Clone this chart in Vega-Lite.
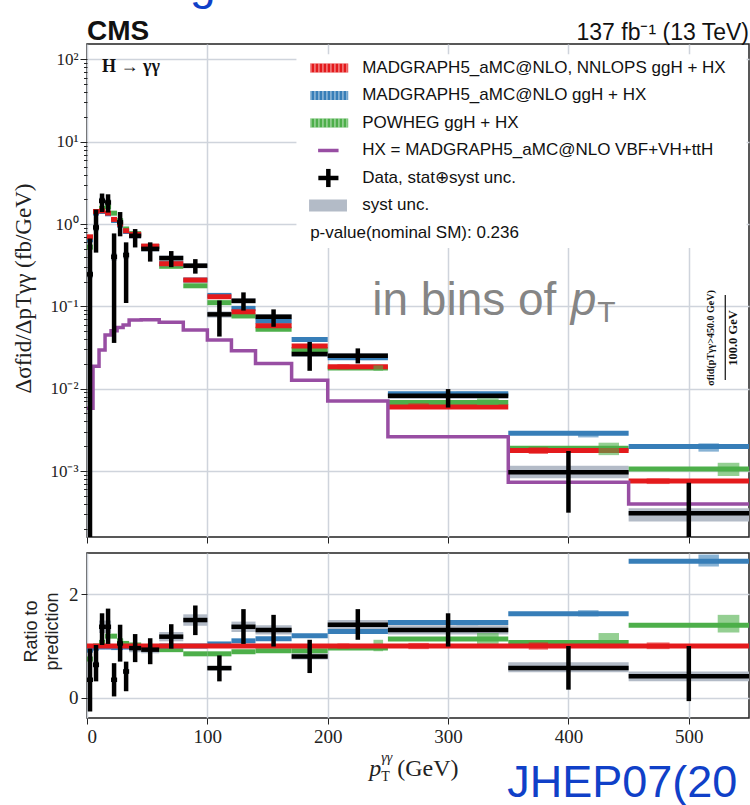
{
"$schema": "https://vega.github.io/schema/vega-lite/v6.json",
"autosize": {"type": "none"},
"padding": {"left": 87, "top": 44, "right": 663, "bottom": 761},
"background": "white",
"bounds": "flush",
"spacing": 16,
"config": {
  "font": "Liberation Sans",
  "view": {"stroke": "#222", "strokeWidth": 1.5},
  "axis": {"gridColor": "#cfd4dc", "gridWidth": 1.5, "domain": false, "tickColor": "#222", "labelColor": "#222", "titleColor": "#222"}
},
"datasets": {
  "bins": [
    {"lo":0,"hi":5,"c":2.5,"nnlops":0.70,"mg5":0.644,"powheg":0.525,"d":0.245,"dlo":0.00001,"dhi":0.67,"slo":0.22,"shi":0.27,"r_mg5":0.92,"r_powheg":0.75,"rd":0.35,"rlo":-0.26,"rhi":0.95,"rslo":0.31,"rshi":0.39},
    {"lo":5,"hi":10,"c":7.5,"nnlops":1.42,"mg5":1.363,"powheg":1.42,"d":0.91,"dlo":0.45,"dhi":1.50,"slo":0.82,"shi":1.0,"r_mg5":0.96,"r_powheg":1.0,"rd":0.64,"rlo":0.32,"rhi":1.02,"rslo":0.58,"rshi":0.70},
    {"lo":10,"hi":15,"c":12.5,"nnlops":1.45,"mg5":1.421,"powheg":1.552,"d":1.92,"dlo":1.40,"dhi":2.35,"slo":1.75,"shi":2.1,"r_mg5":0.98,"r_powheg":1.07,"rd":1.37,"rlo":1.02,"rhi":1.63,"rslo":1.25,"rshi":1.49},
    {"lo":15,"hi":20,"c":17.5,"nnlops":1.36,"mg5":1.333,"powheg":1.618,"d":1.83,"dlo":1.38,"dhi":2.30,"slo":1.66,"shi":2.0,"r_mg5":0.98,"r_powheg":1.19,"rd":1.37,"rlo":1.04,"rhi":1.72,"rslo":1.25,"rshi":1.49},
    {"lo":20,"hi":25,"c":22.5,"nnlops":1.14,"mg5":1.106,"powheg":1.357,"d":0.40,"dlo":0.036,"dhi":0.77,"slo":0.36,"shi":0.44,"r_mg5":0.97,"r_powheg":1.19,"rd":0.35,"rlo":0.03,"rhi":0.67,"rslo":0.31,"rshi":0.39},
    {"lo":25,"hi":30,"c":27.5,"nnlops":1.0,"mg5":0.97,"powheg":1.10,"d":1.05,"dlo":0.71,"dhi":1.40,"slo":0.95,"shi":1.15,"r_mg5":0.97,"r_powheg":1.10,"rd":1.05,"rlo":0.70,"rhi":1.41,"rslo":0.96,"rshi":1.14},
    {"lo":30,"hi":35,"c":32.5,"nnlops":0.83,"mg5":0.813,"powheg":0.872,"d":0.42,"dlo":0.11,"dhi":0.60,"slo":0.38,"shi":0.46,"r_mg5":0.98,"r_powheg":1.05,"rd":0.51,"rlo":0.13,"rhi":0.70,"rslo":0.46,"rshi":0.56},
    {"lo":35,"hi":45,"c":40,"nnlops":0.75,"mg5":0.735,"powheg":0.765,"d":0.72,"dlo":0.52,"dhi":0.87,"slo":0.66,"shi":0.78,"r_mg5":0.98,"r_powheg":1.02,"rd":0.96,"rlo":0.69,"rhi":1.23,"rslo":0.88,"rshi":1.04},
    {"lo":45,"hi":60,"c":52.5,"nnlops":0.54,"mg5":0.535,"powheg":0.535,"d":0.50,"dlo":0.35,"dhi":0.60,"slo":0.46,"shi":0.54,"r_mg5":0.99,"r_powheg":0.99,"rd":0.93,"rlo":0.65,"rhi":1.15,"rslo":0.86,"rshi":1.0},
    {"lo":60,"hi":80,"c":70,"nnlops":0.33,"mg5":0.33,"powheg":0.307,"d":0.386,"dlo":0.30,"dhi":0.47,"slo":0.355,"shi":0.417,"r_mg5":1.0,"r_powheg":0.93,"rd":1.18,"rlo":0.95,"rhi":1.42,"rslo":1.09,"rshi":1.27},
    {"lo":80,"hi":100,"c":90,"nnlops":0.209,"mg5":0.209,"powheg":0.178,"d":0.312,"dlo":0.25,"dhi":0.375,"slo":0.29,"shi":0.335,"r_mg5":1.0,"r_powheg":0.85,"rd":1.50,"rlo":1.21,"rhi":1.78,"rslo":1.39,"rshi":1.61},
    {"lo":100,"hi":120,"c":110,"nnlops":0.131,"mg5":0.136,"powheg":0.111,"d":0.080,"dlo":0.043,"dhi":0.118,"slo":0.073,"shi":0.087,"r_mg5":1.04,"r_powheg":0.85,"rd":0.575,"rlo":0.32,"rhi":0.82,"rslo":0.53,"rshi":0.62},
    {"lo":120,"hi":140,"c":130,"nnlops":0.086,"mg5":0.0946,"powheg":0.0765,"d":0.117,"dlo":0.089,"dhi":0.148,"slo":0.108,"shi":0.126,"r_mg5":1.10,"r_powheg":0.89,"rd":1.37,"rlo":1.04,"rhi":1.71,"rslo":1.27,"rshi":1.47},
    {"lo":140,"hi":170,"c":155,"nnlops":0.058,"mg5":0.0661,"powheg":0.0528,"d":0.0748,"dlo":0.0565,"dhi":0.092,"slo":0.069,"shi":0.081,"r_mg5":1.14,"r_powheg":0.91,"rd":1.31,"rlo":0.99,"rhi":1.60,"rslo":1.22,"rshi":1.40},
    {"lo":170,"hi":200,"c":185,"nnlops":0.033,"mg5":0.0396,"powheg":0.030,"d":0.0264,"dlo":0.0165,"dhi":0.037,"slo":0.0243,"shi":0.0285,"r_mg5":1.20,"r_powheg":0.91,"rd":0.80,"rlo":0.48,"rhi":1.12,"rslo":0.74,"rshi":0.86},
    {"lo":200,"hi":250,"c":225,"nnlops":0.0185,"mg5":0.0237,"powheg":0.0178,"d":0.0252,"dlo":0.0203,"dhi":0.0309,"slo":0.0232,"shi":0.0272,"r_mg5":1.28,"r_powheg":0.96,"rd":1.41,"rlo":1.12,"rhi":1.71,"rslo":1.32,"rshi":1.50},
    {"lo":250,"hi":350,"c":300,"nnlops":0.00598,"mg5":0.0087,"powheg":0.00679,"d":0.00822,"dlo":0.0059,"dhi":0.0099,"slo":0.0075,"shi":0.0090,"r_mg5":1.455,"r_powheg":1.135,"rd":1.31,"rlo":0.99,"rhi":1.63,"rslo":1.22,"rshi":1.40},
    {"lo":350,"hi":450,"c":400,"nnlops":0.00177,"mg5":0.00287,"powheg":0.00189,"d":0.000964,"dlo":0.000312,"dhi":0.00175,"slo":0.00082,"shi":0.00116,"r_mg5":1.62,"r_powheg":1.07,"rd":0.577,"rlo":0.16,"rhi":1.0,"rslo":0.494,"rshi":0.686},
    {"lo":450,"hi":550,"c":500,"nnlops":0.000756,"mg5":0.00199,"powheg":0.00106,"d":0.000306,"dlo":0.00001,"dhi":0.00072,"slo":0.000243,"shi":0.000352,"r_mg5":2.63,"r_powheg":1.40,"rd":0.417,"rlo":-0.06,"rhi":1.0,"rslo":0.32,"rshi":0.51}
  ],
  "hx": [
    {"x":0,"v":0.0058},{"x":5,"v":0.0188},{"x":10,"v":0.0295},{"x":15,"v":0.045},{"x":20,"v":0.0506},
    {"x":25,"v":0.0556},{"x":30,"v":0.0593},{"x":35,"v":0.0683},{"x":45,"v":0.069},{"x":60,"v":0.064},
    {"x":80,"v":0.0517},{"x":100,"v":0.039},{"x":120,"v":0.029},{"x":140,"v":0.0203},{"x":170,"v":0.0127},
    {"x":200,"v":0.00708},{"x":250,"v":0.00261},{"x":350,"v":0.00073},{"x":450,"v":0.000398},{"x":550,"v":0.000398}
  ],
  "unc_top": [
    {"series":"nnlops","x1":208,"x2":218,"v1":0.0172,"v2":0.0198},
    {"series":"mg5","x1":228,"x2":238,"v1":0.0222,"v2":0.0252},
    {"series":"powheg","x1":238,"x2":246,"v1":0.0165,"v2":0.0192},
    {"series":"nnlops","x1":267,"x2":284,"v1":0.00577,"v2":0.00664},
    {"series":"mg5","x1":307,"x2":325,"v1":0.0080,"v2":0.0092},
    {"series":"powheg","x1":324,"x2":342,"v1":0.00634,"v2":0.00764},
    {"series":"nnlops","x1":367,"x2":383,"v1":0.00161,"v2":0.00194},
    {"series":"mg5","x1":408,"x2":425,"v1":0.00256,"v2":0.00303},
    {"series":"powheg","x1":425,"x2":442,"v1":0.00156,"v2":0.00221},
    {"series":"nnlops","x1":465,"x2":484,"v1":0.000695,"v2":0.000815},
    {"series":"mg5","x1":508,"x2":525,"v1":0.00172,"v2":0.00217},
    {"series":"powheg","x1":524,"x2":542,"v1":0.00087,"v2":0.00126}
  ],
  "unc_ratio": [
    {"series":"nnlops","x1":208,"x2":218,"v1":0.95,"v2":1.05},
    {"series":"mg5","x1":228,"x2":238,"v1":1.24,"v2":1.32},
    {"series":"powheg","x1":238,"x2":246,"v1":0.90,"v2":1.12},
    {"series":"nnlops","x1":267,"x2":284,"v1":0.94,"v2":1.06},
    {"series":"mg5","x1":307,"x2":325,"v1":1.40,"v2":1.50},
    {"series":"powheg","x1":324,"x2":342,"v1":1.04,"v2":1.25},
    {"series":"nnlops","x1":367,"x2":383,"v1":0.93,"v2":1.07},
    {"series":"mg5","x1":408,"x2":425,"v1":1.57,"v2":1.69},
    {"series":"powheg","x1":425,"x2":442,"v1":0.96,"v2":1.25},
    {"series":"nnlops","x1":465,"x2":484,"v1":0.94,"v2":1.07},
    {"series":"mg5","x1":508,"x2":525,"v1":2.53,"v2":2.76},
    {"series":"powheg","x1":524,"x2":542,"v1":1.26,"v2":1.60}
  ],
  "legend": [
    {"rank":1,"series":"nnlops","label":"MADGRAPH5_aMC@NLO, NNLOPS ggH + HX"},
    {"rank":2,"series":"mg5","label":"MADGRAPH5_aMC@NLO ggH + HX"},
    {"rank":3,"series":"powheg","label":"POWHEG ggH + HX"},
    {"rank":4,"series":"hx","label":"HX = MADGRAPH5_aMC@NLO VBF+VH+ttH"},
    {"rank":5,"series":"data","label":"Data, stat⊕syst unc."},
    {"rank":6,"series":"syst","label":"syst unc."},
    {"rank":7,"series":"pvalue","label":"p-value(nominal SM): 0.236"}
  ]
},
"vconcat": [
  {
    "width": 662,
    "height": 493,
    "resolve": {"scale": {"y": "independent"}},
    "layer": [
      {
        "layer": [
          {
            "data": {"name": "bins"},
            "mark": {"type": "rect", "color": "#b3bbc7", "clip": true},
            "encoding": {
              "x": {"field": "lo", "type": "quantitative", "scale": {"domain": [0, 550], "nice": false, "zero": false},
                    "axis": {"values": [0,100,200,300,400,500], "labels": false, "title": null, "tickSize": 6, "grid": true}},
              "x2": {"field": "hi"},
              "y": {"field": "slo", "type": "quantitative", "scale": {"type": "log", "domain": [0.000158, 154], "nice": false},
                    "axis": {"values": [0.001,0.01,0.1,1,10,100],
                             "labelExpr": "datum.value > 50 ? '10²' : datum.value > 5 ? '10¹' : datum.value > 0.5 ? '10⁰' : datum.value > 0.05 ? '10⁻¹' : datum.value > 0.005 ? '10⁻²' : '10⁻³'",
                             "labelFont": "Liberation Serif", "labelFontSize": 17, "labelPadding": 2, "tickSize": 7, "grid": true,
                             "title": "Δσfid/ΔpTγγ (fb/GeV)", "titleFont": "Liberation Serif", "titleFontSize": 23, "titleFontWeight": "normal",
                             "titleX": -64, "titleY": 244, "titleAngle": 270, "titleBaseline": "middle", "titleAlign": "center"}},
              "y2": {"field": "shi"}
            }
          },
          {
            "data": {"name": "bins"},
            "transform": [{"fold": ["powheg", "mg5", "nnlops"], "as": ["series", "val"]}],
            "mark": {"type": "rule", "strokeWidth": 5},
            "encoding": {
              "x": {"field": "lo", "type": "quantitative"},
              "x2": {"field": "hi"},
              "y": {"field": "val", "type": "quantitative"},
              "color": {"field": "series", "type": "nominal", "scale": {"domain": ["nnlops","mg5","powheg"], "range": ["#e41a1c","#377eb8","#4daf4a"]}, "legend": null}
            }
          },
          {
            "data": {"name": "unc_top"},
            "mark": {"type": "rect", "opacity": 0.6},
            "encoding": {
              "x": {"field": "x1", "type": "quantitative"},
              "x2": {"field": "x2"},
              "y": {"field": "v1", "type": "quantitative"},
              "y2": {"field": "v2"},
              "color": {"field": "series", "type": "nominal", "legend": null}
            }
          },
          {
            "data": {"name": "hx"},
            "mark": {"type": "line", "interpolate": "step-after", "color": "#984ea3", "strokeWidth": 3.5},
            "encoding": {
              "x": {"field": "x", "type": "quantitative"},
              "y": {"field": "v", "type": "quantitative"}
            }
          },
          {
            "data": {"name": "bins"},
            "mark": {"type": "rule", "color": "black", "strokeWidth": 4.5},
            "encoding": {
              "x": {"field": "lo", "type": "quantitative"},
              "x2": {"field": "hi"},
              "y": {"field": "d", "type": "quantitative"}
            }
          },
          {
            "data": {"name": "bins"},
            "mark": {"type": "rule", "color": "black", "strokeWidth": 4.5, "clip": true},
            "encoding": {
              "x": {"field": "c", "type": "quantitative"},
              "y": {"field": "dlo", "type": "quantitative"},
              "y2": {"field": "dhi"}
            }
          },
          {
            "data": {"values": [{}]},
            "mark": {"type": "text", "text": "H → γγ", "font": "Liberation Serif", "fontSize": 18, "fontWeight": "bold", "align": "left", "baseline": "middle", "color": "#111"},
            "encoding": {"x": {"datum": 12.5}, "y": {"datum": 81}}
          },
          {
            "data": {"values": [{}]},
            "mark": {"type": "text", "text": "CMS", "fontSize": 28, "fontWeight": "bold", "align": "left", "baseline": "alphabetic", "color": "#111"},
            "encoding": {"x": {"datum": 0}, "y": {"datum": 172.6}}
          },
          {
            "data": {"values": [{}]},
            "mark": {"type": "text", "text": "137 fb⁻¹ (13 TeV)", "fontSize": 23, "align": "right", "baseline": "alphabetic", "color": "#111"},
            "encoding": {"x": {"datum": 550}, "y": {"datum": 172.6}}
          },
          {
            "data": {"values": [{}]},
            "mark": {"type": "text", "text": "g", "fontSize": 46, "align": "left", "baseline": "alphabetic", "color": "#1040c8"},
            "encoding": {"x": {"datum": 85.6}, "y": {"datum": 543}}
          },
          {
            "data": {"values": [{}]},
            "mark": {"type": "text", "text": "in bins of", "fontSize": 46, "align": "left", "baseline": "alphabetic", "color": "#858585"},
            "encoding": {"x": {"datum": 237}, "y": {"datum": 0.0785}}
          },
          {
            "data": {"values": [{}]},
            "mark": {"type": "text", "text": "p", "fontSize": 46, "fontStyle": "italic", "align": "left", "baseline": "alphabetic", "color": "#858585"},
            "encoding": {"x": {"datum": 402}, "y": {"datum": 0.0785}}
          },
          {
            "data": {"values": [{}]},
            "mark": {"type": "text", "text": "T", "fontSize": 30, "align": "left", "baseline": "alphabetic", "color": "#858585"},
            "encoding": {"x": {"datum": 424}, "y": {"datum": 0.0646}}
          },
          {
            "data": {"values": [{}]},
            "mark": {"type": "text", "text": "σfid(pTγγ>450.0 GeV)", "font": "Liberation Serif", "fontSize": 10, "fontWeight": "bold", "angle": 270, "align": "center", "baseline": "middle", "color": "#111"},
            "encoding": {"x": {"datum": 518.7}, "y": {"datum": 0.0413}}
          },
          {
            "data": {"values": [{}]},
            "mark": {"type": "rule", "color": "#222", "strokeWidth": 1.3},
            "encoding": {"x": {"datum": 530.3}, "y": {"datum": 0.1377}, "y2": {"datum": 0.01277}}
          },
          {
            "data": {"values": [{}]},
            "mark": {"type": "text", "text": "100.0 GeV", "font": "Liberation Serif", "fontSize": 12.5, "fontWeight": "bold", "angle": 270, "align": "center", "baseline": "middle", "color": "#111"},
            "encoding": {"x": {"datum": 537}, "y": {"datum": 0.0413}}
          }
        ]
      },
      {
        "data": {"values": [{}]},
        "mark": {"type": "rule", "opacity": 0},
        "encoding": {
          "y": {"datum": 1, "type": "quantitative", "scale": {"type": "log", "domain": [0.000158, 154], "nice": false},
                "axis": {"orient": "left", "values": [0.0002,0.0003,0.0004,0.0005,0.0006,0.0007,0.0008,0.0009,0.002,0.003,0.004,0.005,0.006,0.007,0.008,0.009,0.02,0.03,0.04,0.05,0.06,0.07,0.08,0.09,0.2,0.3,0.4,0.5,0.6,0.7,0.8,0.9,2,3,4,5,6,7,8,9,20,30,40,50,60,70,80,90],
                         "labels": false, "grid": false, "tickSize": 3.5, "title": null}}
        }
      },
      {
        "layer": [
          {
            "data": {"values": [{}]},
            "mark": {"type": "rect", "color": "white"},
            "encoding": {
              "x": {"datum": 174}, "x2": {"datum": 548},
              "y": {"datum": 0.5, "type": "quantitative", "scale": {"domain": [0.1273, 18.055], "reverse": true, "zero": false, "nice": false}, "axis": null},
              "y2": {"datum": 7.55}
            }
          },
          {
            "data": {"name": "legend"},
            "transform": [{"filter": "datum.rank <= 3"}],
            "mark": {"type": "rule", "strokeWidth": 9},
            "encoding": {
              "x": {"datum": 185.4}, "x2": {"datum": 217},
              "y": {"field": "rank", "type": "quantitative", "scale": {"domain": [0.1273, 18.055], "reverse": true, "zero": false, "nice": false}, "axis": null},
              "color": {"field": "series", "type": "nominal", "legend": null}
            }
          },
          {
            "data": {"name": "legend"},
            "transform": [{"filter": "datum.rank <= 3"}],
            "mark": {"type": "rule", "strokeWidth": 9, "color": "white", "opacity": 0.45, "strokeDash": [1.5, 2.5]},
            "encoding": {
              "x": {"datum": 185.4}, "x2": {"datum": 217},
              "y": {"field": "rank", "type": "quantitative", "axis": null}
            }
          },
          {
            "data": {"name": "legend"},
            "transform": [{"filter": "datum.rank == 4"}],
            "mark": {"type": "rule", "strokeWidth": 3.5, "color": "#984ea3"},
            "encoding": {
              "x": {"datum": 192}, "x2": {"datum": 209},
              "y": {"field": "rank", "type": "quantitative", "axis": null}
            }
          },
          {
            "data": {"name": "legend"},
            "transform": [{"filter": "datum.rank == 5"}],
            "mark": {"type": "rule", "strokeWidth": 4.5, "color": "black"},
            "encoding": {
              "x": {"datum": 192.2}, "x2": {"datum": 208.9},
              "y": {"field": "rank", "type": "quantitative", "axis": null}
            }
          },
          {
            "data": {"values": [{}]},
            "mark": {"type": "rule", "strokeWidth": 4.5, "color": "black"},
            "encoding": {
              "x": {"datum": 200.5},
              "y": {"datum": 4.67, "type": "quantitative", "axis": null}, "y2": {"datum": 5.33}
            }
          },
          {
            "data": {"name": "legend"},
            "transform": [{"filter": "datum.rank == 6"}],
            "mark": {"type": "rule", "strokeWidth": 12, "color": "#b3bbc7"},
            "encoding": {
              "x": {"datum": 184.5}, "x2": {"datum": 216},
              "y": {"field": "rank", "type": "quantitative", "axis": null}
            }
          },
          {
            "data": {"name": "legend"},
            "transform": [{"filter": "datum.rank <= 6"}],
            "mark": {"type": "text", "fontSize": 17, "align": "left", "baseline": "middle", "color": "#111"},
            "encoding": {
              "x": {"datum": 228.6},
              "y": {"field": "rank", "type": "quantitative", "axis": null},
              "text": {"field": "label"}
            }
          },
          {
            "data": {"name": "legend"},
            "transform": [{"filter": "datum.rank == 7"}],
            "mark": {"type": "text", "fontSize": 17, "align": "left", "baseline": "middle", "color": "#111"},
            "encoding": {
              "x": {"datum": 185.4},
              "y": {"field": "rank", "type": "quantitative", "axis": null},
              "text": {"field": "label"}
            }
          }
        ]
      }
    ]
  },
  {
    "width": 662,
    "height": 165,
    "layer": [
      {
        "data": {"name": "bins"},
        "mark": {"type": "rect", "color": "#b3bbc7"},
        "encoding": {
          "x": {"field": "lo", "type": "quantitative", "scale": {"domain": [0, 550], "nice": false, "zero": false},
                "axis": {"values": [0,100,200,300,400,500], "format": "d", "labelFont": "Liberation Serif", "labelFontSize": 19, "labelPadding": 3, "tickSize": 6, "grid": true, "title": null}},
          "x2": {"field": "hi"},
          "y": {"field": "rslo", "type": "quantitative", "scale": {"domain": [-0.385, 2.79], "nice": false, "zero": false},
                "axis": {"values": [0, 2], "format": "d", "labelFont": "Liberation Serif", "labelFontSize": 19, "labelPadding": 3, "tickSize": 6, "grid": true,
                         "title": ["Ratio to", "prediction"], "titleFont": "Liberation Sans", "titleFontSize": 18, "titleFontWeight": "normal",
                         "titleX": -56, "titleY": 78, "titleAngle": 270, "titleBaseline": "middle", "titleAlign": "center", "titleLineHeight": 21}},
          "y2": {"field": "rshi"}
        }
      },
      {
        "data": {"name": "bins"},
        "mark": {"type": "rule", "strokeWidth": 5, "color": "#4daf4a"},
        "encoding": {
          "x": {"field": "lo", "type": "quantitative"},
          "x2": {"field": "hi"},
          "y": {"field": "r_powheg", "type": "quantitative"}
        }
      },
      {
        "data": {"name": "bins"},
        "mark": {"type": "rule", "strokeWidth": 5, "color": "#377eb8"},
        "encoding": {
          "x": {"field": "lo", "type": "quantitative"},
          "x2": {"field": "hi"},
          "y": {"field": "r_mg5", "type": "quantitative"}
        }
      },
      {
        "data": {"name": "unc_ratio"},
        "mark": {"type": "rect", "opacity": 0.6},
        "encoding": {
          "x": {"field": "x1", "type": "quantitative"},
          "x2": {"field": "x2"},
          "y": {"field": "v1", "type": "quantitative"},
          "y2": {"field": "v2"},
          "color": {"field": "series", "type": "nominal", "scale": {"domain": ["nnlops","mg5","powheg"], "range": ["#e41a1c","#377eb8","#4daf4a"]}, "legend": null}
        }
      },
      {
        "data": {"values": [{}]},
        "mark": {"type": "rule", "strokeWidth": 5, "color": "#e41a1c"},
        "encoding": {"x": {"datum": 0}, "x2": {"datum": 550}, "y": {"datum": 1}}
      },
      {
        "data": {"name": "bins"},
        "mark": {"type": "rule", "color": "black", "strokeWidth": 4.5},
        "encoding": {
          "x": {"field": "lo", "type": "quantitative"},
          "x2": {"field": "hi"},
          "y": {"field": "rd", "type": "quantitative"}
        }
      },
      {
        "data": {"name": "bins"},
        "mark": {"type": "rule", "color": "black", "strokeWidth": 4.5, "clip": true},
        "encoding": {
          "x": {"field": "c", "type": "quantitative"},
          "y": {"field": "rlo", "type": "quantitative"},
          "y2": {"field": "rhi"}
        }
      },
      {
        "data": {"values": [{}]},
        "mark": {"type": "text", "text": "p", "font": "Liberation Serif", "fontSize": 24, "fontStyle": "italic", "align": "right", "baseline": "alphabetic", "color": "#222"},
        "encoding": {"x": {"datum": 244.4}, "y": {"datum": -1.494}}
      },
      {
        "data": {"values": [{}]},
        "mark": {"type": "text", "text": "γγ", "font": "Liberation Serif", "fontSize": 14, "fontStyle": "italic", "align": "left", "baseline": "alphabetic", "color": "#222"},
        "encoding": {"x": {"datum": 244.4}, "y": {"datum": -1.225}}
      },
      {
        "data": {"values": [{}]},
        "mark": {"type": "text", "text": "T", "font": "Liberation Serif", "fontSize": 14, "align": "left", "baseline": "alphabetic", "color": "#222"},
        "encoding": {"x": {"datum": 244.4}, "y": {"datum": -1.59}}
      },
      {
        "data": {"values": [{}]},
        "mark": {"type": "text", "text": "(GeV)", "font": "Liberation Serif", "fontSize": 24, "align": "left", "baseline": "alphabetic", "color": "#222"},
        "encoding": {"x": {"datum": 257.7}, "y": {"datum": -1.494}}
      },
      {
        "data": {"values": [{}]},
        "mark": {"type": "text", "text": "JHEP07(20", "fontSize": 45, "align": "left", "baseline": "alphabetic", "color": "#1040c8"},
        "encoding": {"x": {"datum": 349.1}, "y": {"datum": -1.9}}
      }
    ]
  }
]
}
